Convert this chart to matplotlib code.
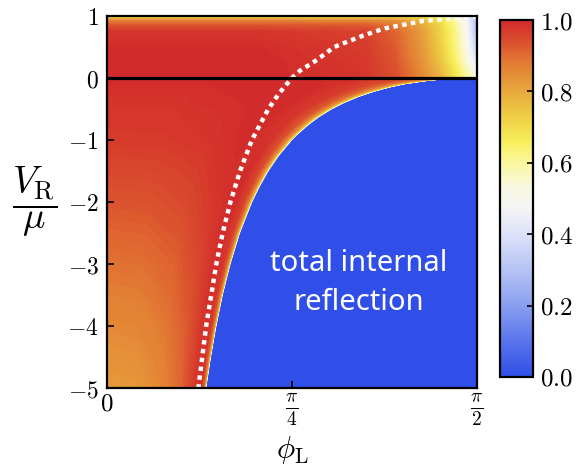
import numpy as np
import matplotlib
matplotlib.use("Agg")
import matplotlib.pyplot as plt
from matplotlib.colors import LinearSegmentedColormap, Normalize
import matplotlib.cm as cm

plt.rcParams['mathtext.fontset'] = 'cm'
plt.rcParams['font.family'] = ['DejaVu Serif']

HALF_PI = np.pi / 2

# --- data ---
# critical angle (edge of total internal reflection), rows of lower region
v_low = [0.0, -0.02, -0.05, -0.1, -0.15, -0.22, -0.3, -0.4, -0.5, -0.62, -0.75, -0.9,
         -1.0, -1.25, -1.5, -1.75, -2.0, -2.5, -3.0, -3.5, -4.0, -4.5, -5.0]
phi_crit = [1.571, 1.430, 1.351, 1.261, 1.201, 1.133, 1.070, 1.007, 0.955, 0.903, 0.857, 0.812,
            0.785, 0.730, 0.685, 0.648, 0.616, 0.564, 0.524, 0.491, 0.464, 0.441, 0.421]
# columns as fraction of the critical angle
u_cols = [0.0, 0.3, 0.55, 0.75, 0.88, 0.94, 0.97, 0.99, 1.0]
T_low = [
    [1.0, 1.0, 1.0, 0.98, 0.93, 0.86, 0.78, 0.62, 0.0],
    [1.0, 1.0, 1.0, 0.985, 0.94, 0.87, 0.79, 0.63, 0.0],
    [0.995, 0.995, 1.0, 0.99, 0.95, 0.89, 0.80, 0.64, 0.0],
    [0.995, 0.995, 1.0, 0.992, 0.955, 0.895, 0.81, 0.65, 0.0],
    [0.99, 0.99, 1.0, 0.995, 0.96, 0.90, 0.82, 0.66, 0.0],
    [0.99, 0.99, 0.998, 0.998, 0.965, 0.905, 0.825, 0.665, 0.0],
    [0.985, 0.985, 0.995, 1.0, 0.97, 0.91, 0.83, 0.67, 0.0],
    [0.985, 0.985, 0.993, 1.0, 0.972, 0.915, 0.835, 0.675, 0.0],
    [0.98, 0.98, 0.99, 1.0, 0.975, 0.92, 0.84, 0.68, 0.0],
    [0.978, 0.978, 0.988, 1.0, 0.978, 0.925, 0.845, 0.685, 0.0],
    [0.975, 0.975, 0.985, 1.0, 0.98, 0.93, 0.85, 0.69, 0.0],
    [0.972, 0.973, 0.982, 0.998, 0.983, 0.933, 0.855, 0.695, 0.0],
    [0.97, 0.972, 0.98, 0.997, 0.985, 0.935, 0.86, 0.70, 0.0],
    [0.96, 0.962, 0.972, 0.994, 0.99, 0.942, 0.865, 0.705, 0.0],
    [0.95, 0.953, 0.965, 0.99, 0.995, 0.95, 0.87, 0.71, 0.0],
    [0.94, 0.943, 0.957, 0.985, 0.997, 0.955, 0.875, 0.715, 0.0],
    [0.93, 0.934, 0.95, 0.98, 0.998, 0.96, 0.88, 0.72, 0.0],
    [0.91, 0.914, 0.932, 0.967, 0.997, 0.968, 0.89, 0.73, 0.0],
    [0.89, 0.895, 0.915, 0.955, 0.995, 0.975, 0.90, 0.74, 0.0],
    [0.872, 0.877, 0.90, 0.942, 0.99, 0.98, 0.905, 0.745, 0.0],
    [0.855, 0.86, 0.885, 0.93, 0.985, 0.985, 0.91, 0.75, 0.0],
    [0.84, 0.845, 0.872, 0.92, 0.98, 0.988, 0.915, 0.755, 0.0],
    [0.825, 0.83, 0.86, 0.91, 0.975, 0.99, 0.92, 0.76, 0.0],
]

# upper region (0 < V_R/mu < 1), columns as fraction of pi/2
v_up = [0.0, 0.25, 0.5, 0.75, 0.85, 0.92, 0.97, 1.0]
f_cols = [0.0, 0.4, 0.7, 0.78, 0.85, 0.9, 0.94, 0.97, 0.99, 1.0]
T_up = [
    [1.0, 1.0, 0.98, 0.94, 0.86, 0.78, 0.69, 0.61, 0.55, 0.50],
    [1.0, 1.0, 0.975, 0.93, 0.84, 0.75, 0.65, 0.55, 0.46, 0.40],
    [0.995, 0.995, 0.97, 0.92, 0.83, 0.73, 0.63, 0.52, 0.40, 0.30],
    [0.98, 0.98, 0.96, 0.91, 0.82, 0.72, 0.62, 0.50, 0.36, 0.26],
    [0.93, 0.93, 0.92, 0.88, 0.80, 0.71, 0.61, 0.49, 0.35, 0.25],
    [0.87, 0.87, 0.86, 0.84, 0.77, 0.69, 0.60, 0.48, 0.35, 0.25],
    [0.74, 0.74, 0.74, 0.73, 0.71, 0.66, 0.58, 0.47, 0.35, 0.27],
    [0.66, 0.66, 0.66, 0.66, 0.65, 0.62, 0.56, 0.47, 0.36, 0.30],
]

# perfect-transmission curve (white dotted)
v_dot = [1.0, 0.985, 0.96, 0.94, 0.92, 0.89, 0.86, 0.8, 0.74, 0.68, 0.6, 0.5,
         0.35, 0.25, 0.12, 0.0, -0.25, -0.5, -1.0, -1.5, -2.0, -2.5, -3.0, -4.0, -5.0]
phi_dot = [1.571, 1.54, 1.47, 1.40, 1.34, 1.30, 1.26, 1.18, 1.13, 1.085, 1.03, 0.965,
           0.912, 0.875, 0.82, 0.785, 0.730, 0.685, 0.615, 0.565, 0.524, 0.491, 0.464, 0.421, 0.388]

cbar_ticks = [0.0, 0.2, 0.4, 0.6, 0.8, 1.0]

# colour map
cmap = LinearSegmentedColormap.from_list('tmap', [
    (0.0, '#2f4fe8'), (0.1, '#5a75ec'), (0.2, '#8a9ff0'), (0.3, '#b5c3f5'),
    (0.4, '#dde2f8'), (0.47, '#f4f4f6'), (0.53, '#f9f8e2'), (0.6, '#fbf7a0'),
    (0.66, '#f8ee5c'), (0.72, '#efd346'), (0.8, '#e8a93c'), (0.88, '#e27c34'),
    (0.94, '#db4f2e'), (1.0, '#d22b2b')])
norm = Normalize(0, 1)
levels = np.linspace(0, 1, 151)

fig = plt.figure(figsize=(5.84, 4.68), dpi=100)
ax = fig.add_axes([107/584, 80/468, 370/584, 372/468])

# lower region: mesh bent along the critical angle, then the TIR part
Xl = np.outer(phi_crit, u_cols)
Xl = np.hstack([Xl, np.full((len(v_low), 1), HALF_PI)])
Yl = np.repeat(np.array(v_low)[:, None], Xl.shape[1], axis=1)
Zl = np.hstack([np.array(T_low), np.zeros((len(v_low), 1))])
ax.contourf(Xl, Yl, Zl, levels=levels, cmap=cmap, norm=norm)

Xu, Yu = np.meshgrid(np.array(f_cols) * HALF_PI, v_up)
ax.contourf(Xu, Yu, np.array(T_up), levels=levels, cmap=cmap, norm=norm)

ax.plot(phi_dot, v_dot, color='white', lw=3.2, linestyle=(0, (1, 1)),
        dash_capstyle='butt')
ax.axhline(0, color='black', lw=2.3)

ax.set_xlim(0, HALF_PI)
ax.set_ylim(-5, 1)
ax.set_xticks([0, np.pi/4, HALF_PI])
ax.set_xticklabels([r'$0$', r'$\frac{\pi}{4}$', r'$\frac{\pi}{2}$'])
ax.set_yticks(range(-5, 2))
ax.set_yticklabels([r'$%d$' % v for v in range(-5, 2)])
ax.tick_params(direction='in', length=5, width=1.2, labelsize=17, pad=6)
ax.tick_params(axis='x', labelsize=20, pad=3)
ax.get_xticklabels()[0].set_fontsize(18)
for s in ax.spines.values():
    s.set_linewidth(1.6)

ax.set_xlabel(r'$\phi_{\rm L}$', fontsize=22, va='center')
ax.xaxis.set_label_coords(0.5, -0.168)
ax.set_ylabel(r'$\dfrac{V_{\rm R}}{\mu}$', fontsize=27, rotation=0,
              ha='center', va='center')
ax.yaxis.set_label_coords(-0.195, 0.5)

ax.text(0.681, 0.282, 'total internal\nreflection', transform=ax.transAxes,
        ha='center', va='center', color='white', fontsize=21,
        family=['Noto Sans', 'DejaVu Sans'], linespacing=1.45)

cax = fig.add_axes([500/584, 91/468, 33/584, 357/468])
sm = cm.ScalarMappable(norm=norm, cmap=cmap)
cb = fig.colorbar(sm, cax=cax)
cb.set_ticks(cbar_ticks)
cb.set_ticklabels([r'$%.1f$' % t for t in cbar_ticks])
cb.ax.tick_params(direction='in', length=4, width=1.2, labelsize=18, pad=5)
cb.outline.set_linewidth(1.6)

fig.savefig('out.png', dpi=100)
